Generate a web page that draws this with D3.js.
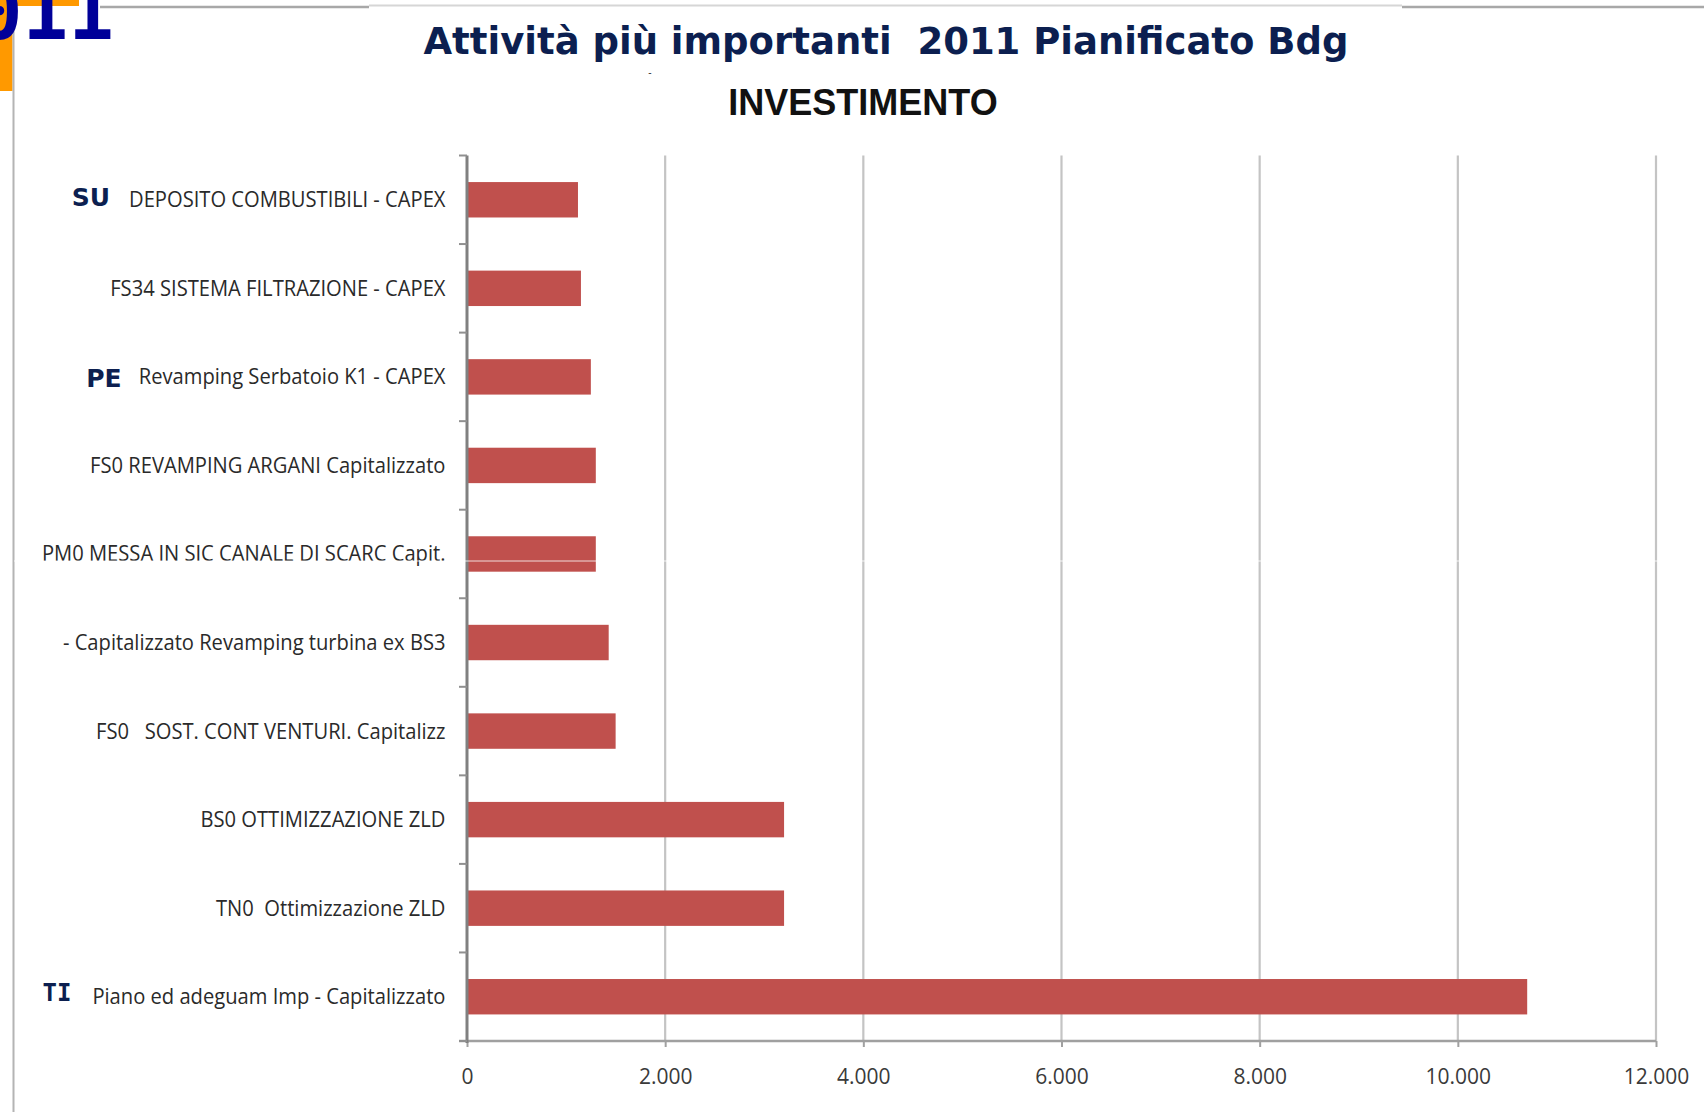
<!DOCTYPE html>
<html>
<head>
<meta charset="utf-8">
<script src="https://cdn.jsdelivr.net/npm/d3@7"></script>
<style>
  html, body { margin: 0; padding: 0; background: #fff; }
  svg { display: block; }
  text { white-space: pre; }
</style>
</head>
<body>
<svg id="chart" width="1704" height="1112"></svg>
<script>
// ---- data ----
const categories = [
  "DEPOSITO COMBUSTIBILI - CAPEX",
  "FS34 SISTEMA FILTRAZIONE - CAPEX",
  "Revamping Serbatoio K1 - CAPEX",
  "FS0 REVAMPING ARGANI Capitalizzato",
  "PM0 MESSA IN SIC CANALE DI SCARC Capit.",
  "- Capitalizzato Revamping turbina ex BS3",
  "FS0   SOST. CONT VENTURI. Capitalizz",
  "BS0 OTTIMIZZAZIONE ZLD",
  "TN0  Ottimizzazione ZLD",
  "Piano ed adeguam Imp - Capitalizzato"
];
const values = [1120, 1150, 1250, 1300, 1300, 1430, 1500, 3200, 3200, 10700];
const prefixes = ["SU", "", "PE", "", "", "", "", "", "", "TI"];
const xTicks = [0, 2000, 4000, 6000, 8000, 10000, 12000];
const xTickLabels = ["0", "2.000", "4.000", "6.000", "8.000", "10.000", "12.000"];
const title = "Attività più importanti  2011 Pianificato Bdg";
const subtitle = "INVESTIMENTO";
const cornerText = "2011";

// ---- layout ----
const svg = d3.select("#chart");
const plot = { left: 467, right: 1656, top: 155.5, bottom: 1041 };

const x = d3.scaleLinear().domain([0, 12000]).range([plot.left, plot.right]);
const y = d3.scaleBand().domain(categories).range([plot.top, plot.bottom])
  .paddingInner(0.6).paddingOuter(0.3);

// ---- page decorations ----
svg.append("rect").attr("x", 0).attr("y", 0).attr("width", 79).attr("height", 6).attr("fill", "#ff9900");
svg.append("rect").attr("x", 0).attr("y", 0).attr("width", 12.5).attr("height", 91).attr("fill", "#ff9900");
svg.append("line").attr("x1", 13.5).attr("x2", 13.5).attr("y1", 5).attr("y2", 1112)
  .attr("stroke", "#b4b4b4").attr("stroke-width", 2);
svg.append("line").attr("x1", 100).attr("x2", 369).attr("y1", 7).attr("y2", 7)
  .attr("stroke", "#a8a8a8").attr("stroke-width", 2.5);
svg.append("line").attr("x1", 369).attr("x2", 1402).attr("y1", 5.5).attr("y2", 5.5)
  .attr("stroke", "#d6d6d6").attr("stroke-width", 2);
svg.append("line").attr("x1", 1402).attr("x2", 1704).attr("y1", 7).attr("y2", 7)
  .attr("stroke", "#a8a8a8").attr("stroke-width", 2.5);
svg.append("text").text(cornerText)
  .attr("x", 114).attr("y", 39).attr("text-anchor", "end")
  .attr("font-family", "DejaVu Sans Mono").attr("font-weight", "bold")
  .attr("font-size", 76).attr("fill", "#000099");

// ---- titles ----
svg.append("text").text(title)
  .attr("x", 886).attr("y", 54).attr("text-anchor", "middle")
  .attr("font-family", "DejaVu Sans").attr("font-weight", "bold")
  .attr("font-size", 37).attr("fill", "#0c1f50");
svg.append("text").text("-")
  .attr("x", 650).attr("y", 76).attr("text-anchor", "middle")
  .attr("font-family", "Liberation Sans").attr("font-size", 10).attr("fill", "#333");
svg.append("text").text(subtitle)
  .attr("x", 863).attr("y", 115).attr("text-anchor", "middle")
  .attr("font-family", "Liberation Sans").attr("font-weight", "bold")
  .attr("font-size", 36).attr("fill", "#111");

// ---- gridlines ----
svg.append("g").selectAll("line").data(xTicks.filter(d => d > 0)).join("line")
  .attr("x1", d => x(d)).attr("x2", d => x(d))
  .attr("y1", plot.top).attr("y2", plot.bottom)
  .attr("stroke", "#c4c4c4").attr("stroke-width", 2.2);

// ---- bars ----
svg.append("g").selectAll("rect").data(categories).join("rect")
  .attr("x", x(0))
  .attr("y", d => y(d))
  .attr("width", (d, i) => x(values[i]) - x(0))
  .attr("height", y.bandwidth())
  .attr("fill", "#c0504d");

// ---- x axis ----
const xAxis = d3.axisBottom(x).tickValues(xTicks)
  .tickFormat((d, i) => xTickLabels[i]).tickSize(6).tickSizeOuter(0).tickPadding(22);
const gx = svg.append("g").attr("transform", `translate(0,${plot.bottom})`).call(xAxis);
gx.select(".domain").attr("stroke", "#a0a0a0").attr("stroke-width", 2.5)
  .attr("d", `M${plot.left - 8},0H${plot.right}`);
gx.selectAll(".tick line").attr("stroke", "#a0a0a0").attr("stroke-width", 2);
gx.selectAll(".tick text")
  .attr("font-family", "Open Sans").attr("font-size", 21).attr("fill", "#3a3a3a")
  .attr("transform", "scale(0.95,1)")
  .attr("x", function() { return 0; })
  .attr("dy", "0.71em");
gx.selectAll(".tick text").attr("transform", null);

// ---- y axis (line + boundary ticks) ----
const gy = svg.append("g");
gy.append("line").attr("x1", plot.left).attr("x2", plot.left)
  .attr("y1", plot.top).attr("y2", plot.bottom + 2)
  .attr("stroke", "#808080").attr("stroke-width", 3);
const boundaries = d3.range(categories.length + 1).map(i => plot.top + i * y.step());
gy.selectAll("line.tk").data(boundaries).join("line").attr("class", "tk")
  .attr("x1", plot.left - 8).attr("x2", plot.left)
  .attr("y1", d => d).attr("y2", d => d)
  .attr("stroke", "#909090").attr("stroke-width", 2);

// ---- category labels ----
const labelRight = 445.5;
const lg = svg.append("g");
lg.selectAll("text").data(categories).join("text")
  .attr("transform", d => `translate(${labelRight},${y(d) + y.bandwidth() / 2 + 7.5}) scale(0.96,1)`)
  .attr("text-anchor", "end")
  .attr("font-family", "Open Sans").attr("font-size", 21).attr("fill", "#2a2a2a")
  .text(d => d);

// ---- prefixes ----
const prefixX = { "SU": 91, "PE": 104, "TI": 57 };
const prefixDy = { "SU": 6.5, "PE": 10, "TI": 4 };
svg.append("g").selectAll("text")
  .data(categories.map((c, i) => ({ c, p: prefixes[i] })).filter(d => d.p))
  .join("text")
  .attr("x", d => prefixX[d.p])
  .attr("y", d => y(d.c) + y.bandwidth() / 2 + prefixDy[d.p])
  .attr("text-anchor", "middle")
  .attr("font-family", d => d.p === "TI" ? "DejaVu Sans Mono" : "DejaVu Sans")
  .attr("font-weight", "bold")
  .attr("font-size", d => d.p === "TI" ? 24 : 25)
  .attr("fill", "#0c1f50")
  .text(d => d.p);

// faint scan artifact line
svg.append("line").attr("x1", 14).attr("x2", 1704).attr("y1", 561).attr("y2", 561)
  .attr("stroke", "#ffffff").attr("stroke-width", 1).attr("opacity", 0.8);
</script>
</body>
</html>
